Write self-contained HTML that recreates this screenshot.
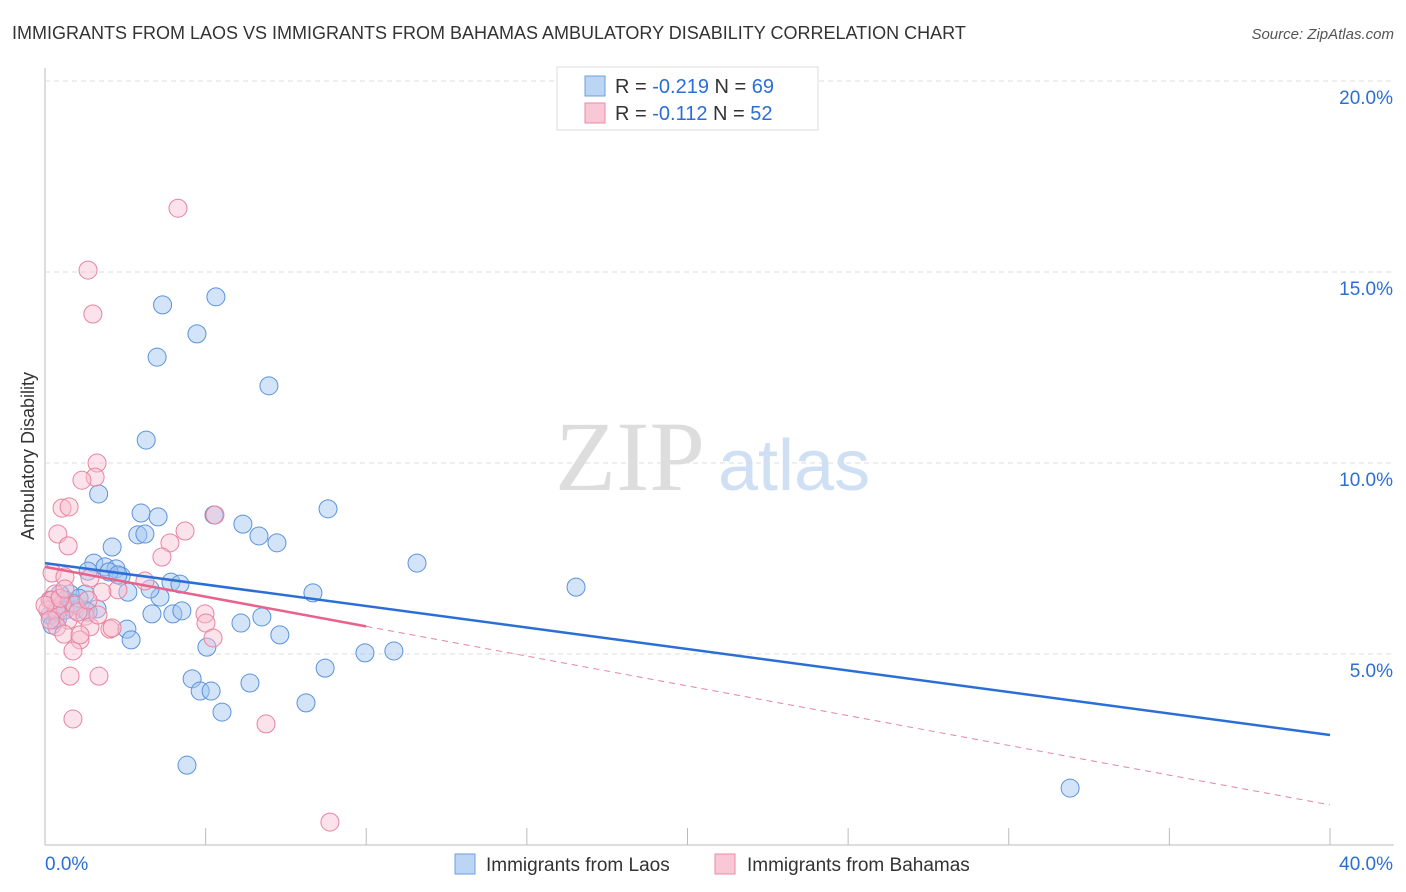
<!DOCTYPE html>
<html><head><meta charset="utf-8"><style>
body{margin:0;background:#fff;font-family:"Liberation Sans",sans-serif;}
svg{display:block}
</style></head><body>
<svg id="chart" width="1406" height="892">
<text x="12" y="39" font-size="18" fill="#333">IMMIGRANTS FROM LAOS VS IMMIGRANTS FROM BAHAMAS AMBULATORY DISABILITY CORRELATION CHART</text>
<text x="1394" y="39" font-size="15" fill="#555" font-style="italic" text-anchor="end">Source: ZipAtlas.com</text>
<text x="0" y="0" transform="translate(34,456) rotate(-90)" font-size="18" fill="#333" text-anchor="middle">Ambulatory Disability</text>
<text x="555" y="490" font-size="100" fill="#ddd" font-family="Liberation Serif">ZIP</text>
<text x="718" y="490" font-size="72" fill="#cfe0f5">atlas</text>
<g id="grid"></g><g id="pts"></g><g id="lines"></g>
<g>
<rect x="557" y="67" width="261" height="63" fill="#fff" stroke="#ddd"/>
<rect x="585" y="76" width="20" height="20" fill="#bcd5f5" stroke="#6c9fe0"/>
<rect x="585" y="103" width="20" height="20" fill="#f8c8d6" stroke="#e88aa6"/>
<text x="615" y="93" font-size="20" fill="#333">R = <tspan fill="#2b6fd6">-0.219</tspan>   N = <tspan fill="#2b6fd6">69</tspan></text>
<text x="615" y="120" font-size="20" fill="#333">R =  <tspan fill="#2b6fd6">-0.112</tspan>   N = <tspan fill="#2b6fd6">52</tspan></text>
</g>
<g>
<rect x="455" y="854" width="20" height="20" fill="#bcd5f5" stroke="#6c9fe0"/>
<text x="486" y="871" font-size="19" fill="#333">Immigrants from Laos</text>
<rect x="715" y="854" width="20" height="20" fill="#f8c8d6" stroke="#e88aa6"/>
<text x="747" y="871" font-size="19" fill="#333">Immigrants from Bahamas</text>
</g>
</svg>
<script>
const xTicks=[0,5,10,15,20,25,30,35,40];
const yTicks=[5,10,15,20];
const xLabels=["0.0%","40.0%"];
const laosX=[3.66,5.32,4.73,3.49,6.97,3.15,1.67,2.99,3.52,5.26,6.16,6.66,8.81,11.58,7.22,2.09,2.89,3.11,1.52,1.87,2.21,2.37,1.34,1.99,3.92,4.20,2.58,3.58,3.33,3.98,4.26,1.62,1.25,0.78,0.47,0.62,0.93,1.25,0.31,0.16,0.40,2.55,2.68,6.10,6.75,7.31,8.34,16.53,5.04,8.72,9.96,10.86,4.58,4.83,5.17,6.38,5.51,8.125,4.42,31.91,0.87,0.62,0.22,0.34,1.34,0.16,1.06,2.27,3.27];
const laosY=[14.14,14.35,13.38,12.77,12.02,10.60,9.19,8.69,8.59,8.64,8.40,8.09,8.80,7.38,7.91,7.80,8.12,8.14,7.38,7.28,7.23,7.04,7.17,7.15,6.88,6.83,6.62,6.49,6.05,6.05,6.13,6.18,6.57,6.57,6.57,6.41,6.15,6.15,5.89,6.02,5.94,5.65,5.37,5.81,5.97,5.50,6.60,6.75,5.18,4.63,5.03,5.08,4.35,4.03,4.03,4.24,3.48,3.72,2.09,1.49,6.33,6.15,5.76,6.15,6.10,6.41,6.46,7.07,6.70];
const bahX=[4.14,1.34,1.49,1.62,1.56,1.15,0.53,0.75,0.40,0.72,5.29,4.36,3.89,3.64,0.22,0.62,1.40,3.11,2.27,1.77,0.31,0.16,0.53,0.93,0.09,0.37,0.72,1.25,1.40,2.02,0.37,0.59,1.09,0.87,4.98,5.01,5.23,2.09,1.09,0.78,1.68,0.87,6.88,8.87,0.22,0,0.47,0.16,1.03,1.34,1.65,0.62];
const bahY=[16.67,15.05,13.90,10.00,9.63,9.55,8.82,8.85,8.14,7.83,8.64,8.22,7.91,7.54,7.12,7.02,6.99,6.91,6.68,6.62,6.57,6.41,6.28,6.28,6.15,6.10,5.89,5.99,5.71,5.65,5.71,5.52,5.37,5.08,6.05,5.81,5.42,5.68,5.50,4.42,4.42,3.30,3.17,0.60,6.41,6.28,6.46,5.89,6.10,6.41,6.02,6.70];
const laosFit=[7.38,2.88];
const bahFit=[7.28,1.05];
const NS='http://www.w3.org/2000/svg';
const X=v=>45+v*32.125, Y=v=>845-v*38.2;
function mk(tag,attrs,parent){const e=document.createElementNS(NS,tag);for(const k in attrs)e.setAttribute(k,attrs[k]);document.getElementById(parent).appendChild(e);return e;}
const ax=mk('line',{x1:45,y1:68,x2:45,y2:845,stroke:'#bbb'},'grid');


const bx=mk('line',{x1:45,y1:845,x2:1394,y2:845,stroke:'#bbb'},'grid');


yTicks.forEach(t=>{
 const g=mk('line',{x1:45,y1:Y(t),x2:1394,y2:Y(t),stroke:'#ddd','stroke-dasharray':'5,4'},'grid');
 
 
 const l=mk('text',{x:1393,y:Y(t)+23,'font-size':19,fill:'#2b6fd6','text-anchor':'end'},'grid');
 l.textContent=t.toFixed(1)+'%';
 
 
});
xTicks.forEach(t=>{
 const k=mk('line',{x1:X(t),y1:828,x2:X(t),y2:845,stroke:'#bbb'},'grid');
 
 
});
const xl0=mk('text',{x:45,y:870,'font-size':19,fill:'#2b6fd6'},'grid');
xl0.textContent=xLabels[0];


const xl1=mk('text',{x:1393,y:870,'font-size':19,fill:'#2b6fd6','text-anchor':'end'},'grid');
xl1.textContent=xLabels[1];


laosX.forEach((v,i)=>{
 const c=mk('circle',{cx:X(v),cy:Y(laosY[i]),r:9,fill:'rgba(160,195,240,0.45)',stroke:'#5a93dc','stroke-width':1},'pts');
 
 
});
bahX.forEach((v,i)=>{
 const c=mk('circle',{cx:X(v),cy:Y(bahY[i]),r:9,fill:'rgba(248,190,208,0.45)',stroke:'#e8839f','stroke-width':1},'pts');
 
 
});
const lf=mk('line',{x1:X(0),y1:Y(laosFit[0]),x2:X(40),y2:Y(laosFit[1]),stroke:'#2b6fd6','stroke-width':2.5},'lines');


const bm=v=>bahFit[0]+(bahFit[1]-bahFit[0])*v/40;
const bs=mk('line',{x1:X(0),y1:Y(bm(0)),x2:X(10),y2:Y(bm(10)),stroke:'#e8628c','stroke-width':2.5},'lines');


const bd=mk('line',{x1:X(10),y1:Y(bm(10)),x2:X(40),y2:Y(bm(40)),stroke:'#e8839f','stroke-width':1,'stroke-dasharray':'6,5'},'lines');


</script>
</body></html>
